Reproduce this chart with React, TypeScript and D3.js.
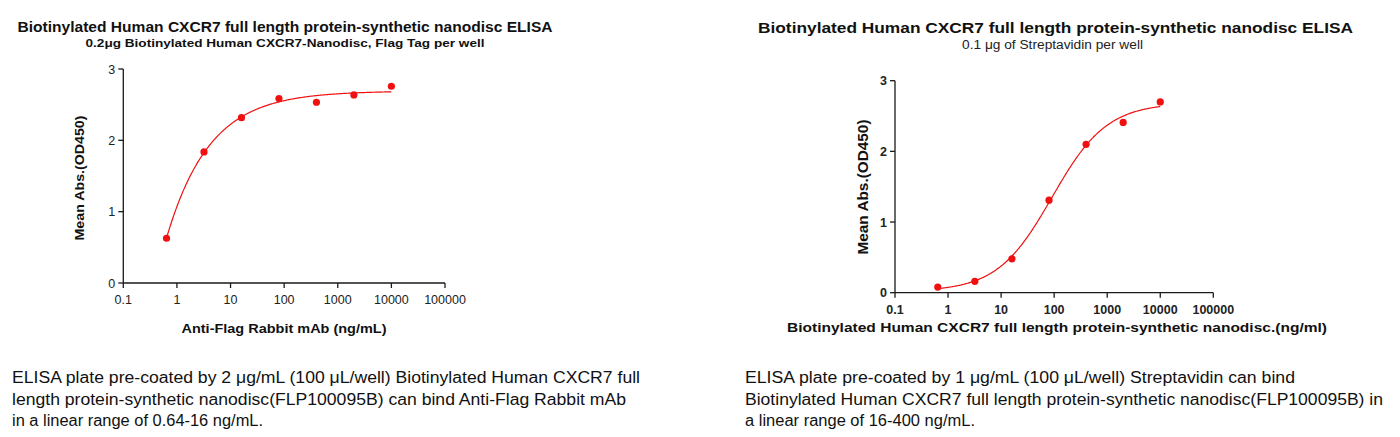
import React from "react";
import * as d3 from "d3";

// ---- data ----
const concentrations = [0.64, 3.2, 16, 80, 400, 2000, 10000];
const leftOD = [0.627, 1.837, 2.318, 2.585, 2.534, 2.637, 2.758];
const rightOD = [0.08, 0.161, 0.48, 1.31, 2.1, 2.41, 2.7];
const xTicks = [0.1, 1, 10, 100, 1000, 10000, 100000];
const xTickLabels = ["0.1", "1", "10", "100", "1000", "10000", "100000"];
const yTicks = [0, 1, 2, 3];

const leftTitle = "Biotinylated Human CXCR7 full length protein-synthetic nanodisc ELISA";
const leftSubtitle = "0.2μg Biotinylated Human CXCR7-Nanodisc, Flag Tag per well";
const leftXTitle = "Anti-Flag Rabbit mAb (ng/mL)";
const rightTitle = "Biotinylated Human CXCR7 full length protein-synthetic nanodisc ELISA";
const rightSubtitle = "0.1 μg of Streptavidin per well";
const rightXTitle = "Biotinylated Human CXCR7 full length protein-synthetic nanodisc.(ng/ml)";
const yTitle = "Mean Abs.(OD450)";
const leftNote = [
  "ELISA plate pre-coated by 2 μg/mL (100 μL/well) Biotinylated Human CXCR7 full",
  "length protein-synthetic nanodisc(FLP100095B) can bind Anti-Flag Rabbit mAb",
  "in a linear range of 0.64-16 ng/mL.",
];
const rightNote = [
  "ELISA plate pre-coated by 1 μg/mL (100 μL/well) Streptavidin can bind",
  "Biotinylated Human CXCR7 full length protein-synthetic nanodisc(FLP100095B) in",
  "a linear range of 16-400 ng/mL.",
];

// ---- 4PL fit (Nelder-Mead least squares) ----
function model(p: number[], x: number) {
  return p[0] + (p[1] - p[0]) / (1 + Math.pow(10, (p[2] - Math.log10(x)) * p[3]));
}
function nelderMead(f: (p: number[]) => number, x0: number[], steps: number[], iters = 4000) {
  const n = x0.length;
  let simplex = [x0.slice()];
  for (let i = 0; i < n; i++) {
    const p = x0.slice();
    p[i] += steps[i];
    simplex.push(p);
  }
  let vals = simplex.map(f);
  for (let it = 0; it < iters; it++) {
    const idx = d3.range(n + 1).sort((a, b) => vals[a] - vals[b]);
    simplex = idx.map((i) => simplex[i]);
    vals = idx.map((i) => vals[i]);
    const c = d3.range(n).map((j) => d3.mean(simplex.slice(0, n), (p) => p[j]) as number);
    const worst = simplex[n];
    const xr = c.map((cj, j) => cj + (cj - worst[j]));
    const fr = f(xr);
    if (fr < vals[0]) {
      const xe = c.map((cj, j) => cj + 2 * (cj - worst[j]));
      const fe = f(xe);
      if (fe < fr) { simplex[n] = xe; vals[n] = fe; } else { simplex[n] = xr; vals[n] = fr; }
    } else if (fr < vals[n - 1]) {
      simplex[n] = xr; vals[n] = fr;
    } else {
      const xc = c.map((cj, j) => cj + 0.5 * (worst[j] - cj));
      const fc = f(xc);
      if (fc < vals[n]) { simplex[n] = xc; vals[n] = fc; }
      else {
        for (let i = 1; i <= n; i++) {
          simplex[i] = simplex[i].map((v, j) => simplex[0][j] + 0.5 * (v - simplex[0][j]));
          vals[i] = f(simplex[i]);
        }
      }
    }
  }
  const best = d3.minIndex(vals);
  return simplex[best];
}
function fit4PL(xs: number[], ys: number[], init: number[]) {
  const sse = (p: number[]) => d3.sum(xs, (x, i) => (ys[i] - model(p, x)) ** 2);
  return nelderMead(sse, init, [0.2, 0.2, 0.5, 0.3]);
}

type PanelProps = {
  ys: number[];
  init: number[];
  xRange: [number, number];
  yRange: [number, number];
  bold: boolean;
};

function Panel({ ys, init, xRange, yRange, bold }: PanelProps) {
  const x = d3.scaleLog().domain([0.1, 100000]).range(xRange);
  const y = d3.scaleLinear().domain([0, 3]).range(yRange);
  const p = fit4PL(concentrations, ys, init);
  const lx = d3.range(0, 301).map((i) => Math.pow(10, Math.log10(0.64) + (i / 300) * (4 - Math.log10(0.64))));
  const line = d3.line<number>().x((d) => x(d)).y((d) => y(model(p, d))).curve(d3.curveLinear);
  const ax = "#1a1a1a";
  const fw = bold ? 700 : 400;
  return (
    <g>
      <path d={line(lx) as string} fill="none" stroke="#f01010" strokeWidth={1.2} />
      {concentrations.map((c, i) => (
        <circle key={i} cx={x(c)} cy={y(ys[i])} r={3.6} fill="#f01010" />
      ))}
      <line x1={xRange[0]} x2={xRange[1]} y1={yRange[0]} y2={yRange[0]} stroke={ax} strokeWidth={1.3} />
      <line x1={xRange[0]} x2={xRange[0]} y1={yRange[0]} y2={yRange[1]} stroke={ax} strokeWidth={1.3} />
      {xTicks.map((t, i) => (
        <g key={t}>
          <line x1={x(t)} x2={x(t)} y1={yRange[0]} y2={yRange[0] + 5} stroke={ax} strokeWidth={1.3} />
          <text x={x(t)} y={yRange[0] + 21} textAnchor="middle" fontSize={12.5} fontWeight={fw} fill="#222">
            {xTickLabels[i]}
          </text>
        </g>
      ))}
      {yTicks.map((t) => (
        <g key={t}>
          <line x1={xRange[0] - 5} x2={xRange[0]} y1={y(t)} y2={y(t)} stroke={ax} strokeWidth={1.3} />
          <text x={xRange[0] - 8} y={y(t) + 4.5} textAnchor="end" fontSize={12.5} fontWeight={fw} fill="#222">
            {t}
          </text>
        </g>
      ))}
    </g>
  );
}

export default function App() {
  const font = "'Liberation Sans', Arial, sans-serif";
  return (
    <svg
      width={1400}
      height={437}
      style={{ position: "absolute", left: 0, top: 0, display: "block", background: "#fff" }}
      fontFamily={font}
    >
      <rect width={1400} height={437} fill="#fff" />
      {/* Left panel */}
      <text x={285} y={32} textAnchor="middle" fontSize={14} fontWeight={700} fill="#111" textLength={535} lengthAdjust="spacingAndGlyphs">{leftTitle}</text>
      <text x={285} y={47} textAnchor="middle" fontSize={11.5} fontWeight={700} fill="#111" textLength={399} lengthAdjust="spacingAndGlyphs">{leftSubtitle}</text>
      <Panel ys={leftOD} init={[0, 2.7, 0.3, 1]} xRange={[123.3, 445]} yRange={[283, 69]} bold={false} />
      <text x={284} y={332.5} textAnchor="middle" fontSize={13} fontWeight={700} fill="#111" textLength={205} lengthAdjust="spacingAndGlyphs">{leftXTitle}</text>
      <text transform="translate(83.5,178) rotate(-90)" textAnchor="middle" fontSize={13} fontWeight={700} fill="#111" textLength={125} lengthAdjust="spacingAndGlyphs">{yTitle}</text>

      {/* Right panel */}
      <text x={1055.5} y={32.5} textAnchor="middle" fontSize={15.5} fontWeight={700} fill="#111" textLength={595} lengthAdjust="spacingAndGlyphs">{rightTitle}</text>
      <text x={1052.5} y={49} textAnchor="middle" fontSize={12} fontWeight={400} fill="#222" textLength={181} lengthAdjust="spacingAndGlyphs">{rightSubtitle}</text>
      <Panel ys={rightOD} init={[0.05, 2.7, 2, 1]} xRange={[895, 1213.3]} yRange={[292.7, 80.7]} bold={true} />
      <text x={1057} y={332} textAnchor="middle" fontSize={13.5} fontWeight={700} fill="#111" textLength={540} lengthAdjust="spacingAndGlyphs">{rightXTitle}</text>
      <text transform="translate(868,187) rotate(-90)" textAnchor="middle" fontSize={14} fontWeight={700} fill="#111" textLength={135} lengthAdjust="spacingAndGlyphs">{yTitle}</text>

      {/* Notes */}
      {leftNote.map((s, i) => (
        <text key={"l" + i} x={12} y={383 + i * 21.5} fontSize={15.8} fill="#111" textLength={[628, 614, 251][i]} lengthAdjust="spacingAndGlyphs">{s}</text>
      ))}
      {rightNote.map((s, i) => (
        <text key={"r" + i} x={745} y={383 + i * 21.5} fontSize={15.8} fill="#111" textLength={[550, 638, 230][i]} lengthAdjust="spacingAndGlyphs">{s}</text>
      ))}
    </svg>
  );
}
